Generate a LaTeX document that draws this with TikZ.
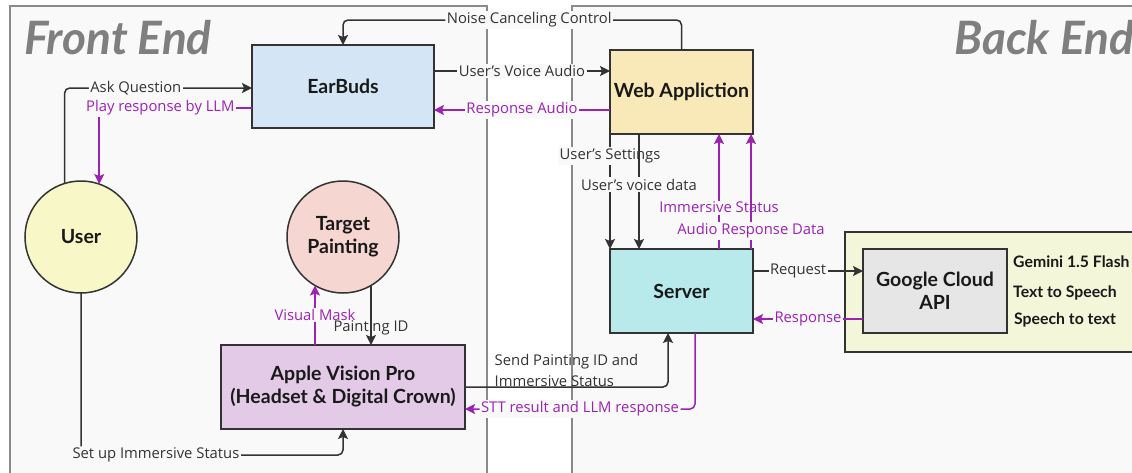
\documentclass[tikz,border=0pt]{standalone}
\usepackage{fontspec}
\setmainfont{Open Sans}
\newfontfamily\nodefont{Lato}
\usetikzlibrary{arrows.meta,calc}
\definecolor{panelbg}{HTML}{F9F9F9}
\definecolor{panelbd}{HTML}{8A8A8A}
\definecolor{dk}{HTML}{333333}
\definecolor{pp}{HTML}{9C22B4}
\definecolor{titlegray}{HTML}{7F7F7F}
\definecolor{cEar}{HTML}{D4E6F5}
\definecolor{cWeb}{HTML}{FAE9B8}
\definecolor{cSrv}{HTML}{B9EAEB}
\definecolor{cApi}{HTML}{E6E6E6}
\definecolor{cGcp}{HTML}{F4F6D9}
\definecolor{cUser}{HTML}{F8F7C8}
\definecolor{cTgt}{HTML}{F5D6D0}
\definecolor{cAvp}{HTML}{E3CAE6}
\tikzset{
  box/.style={draw=dk, line width=1.5pt, inner sep=0pt, outer sep=0pt, align=center,
    font=\nodefont\bfseries\fontsize{19.5}{23}\selectfont, text=black!90},
  circ/.style={box, circle, minimum size=112pt},
  arr/.style={draw=dk, line width=1.5pt, -{Stealth[length=10pt,width=10pt,inset=2pt]}},
  parr/.style={draw=pp, line width=1.5pt, -{Stealth[length=10pt,width=10pt,inset=2pt]}},
  lbl/.style={font=\fontsize{14.8}{17}\selectfont, text=dk, fill=panelbg, inner sep=1.5pt},
  plbl/.style={lbl, text=pp},
  side/.style={font=\nodefont\bfseries\fontsize{15.8}{18}\selectfont, text=black!90, anchor=west, inner sep=0pt},
  title/.style={font=\nodefont\bfseries\itshape\fontsize{46}{48}\selectfont, text=titlegray, inner sep=0pt}
}
\begin{document}
\begin{tikzpicture}[x=1pt,y=-1pt]
\clip (0,0) rectangle (1132,472);
\fill[white] (0,0) rectangle (1132,472);
% panels
\draw[panelbd, fill=panelbg, line width=1.5pt] (10,6) rectangle (487,490);
\draw[panelbd, fill=panelbg, line width=1.5pt] (572,6) rectangle (1150,490);
\node[title, anchor=west] (fe) at (24,38) {Front End};
\node[title, anchor=east] (be) at (1134,38) {Back End};
% google panel
\draw[dk, fill=cGcp, line width=1.5pt] (845,232) rectangle (1150,352);
% nodes
\node[box, fill=cEar, minimum width=182pt, minimum height=83pt] (ear) at (343,86.5) {EarBuds};
\node[box, fill=cWeb, minimum width=143pt, minimum height=84pt] (web) at (681.5,92) {Web Appliction};
\node[box, fill=cSrv, minimum width=143pt, minimum height=84pt] (srv) at (681.5,291) {Server};
\node[box, fill=cApi, minimum width=144pt, minimum height=84pt] (api) at (935,291) {Google Cloud\\API};
\node[circ, fill=cUser] (user) at (81,237) {User};
\node[circ, fill=cTgt] (tgt) at (343,237) {Target\\Painting};
\node[box, fill=cAvp, minimum width=244pt, minimum height=84pt] (avp) at (343,387) {Apple Vision Pro\\(Headset \& Digital Crown)};
\node[side] (gem) at (1013,262) {Gemini 1.5 Flash};
\node[side] (tts) at (1013,293) {Text to Speech};
\node[side] (stt) at (1014,320) {Speech to text};
% connectors
\draw[arr, rounded corners=5pt] (web.north) -- (web.north |- 0,20) -- node[lbl, pos=0.45]{Noise Canceling Control} (ear.north |- 0,20) -- (ear.north);
\draw[arr] (ear.east |- 0,71) -- node[lbl]{User's Voice Audio} (web.west |- 0,71);
\draw[parr] (web.west |- 0,110) -- node[plbl]{Response Audio} (ear.east |- 0,110);
\draw[arr, rounded corners=5pt] (user.107.7) |- node[lbl, pos=0.69]{Ask Question} (ear.west |- 0,88);
\draw[parr] (ear.west |- 0,108) -| node[plbl, pos=0.30]{Play response by LLM} (user.71.3);
\draw[arr, rounded corners=5pt] (user.south) -- (user.south |- 0,455) -- node[lbl, pos=0.286]{Set up Immersive Status} (avp.south |- 0,455) -- (avp.south);
\draw[parr] (avp.north -| tgt.240) -- node[plbl, pos=0.5]{Visual Mask} (tgt.240);
\draw[arr] (tgt.300) -- node[lbl, pos=0.71, fill=none]{Painting ID} (avp.north -| tgt.300);
\draw[arr, rounded corners=5pt] (avp.east) -| node[lbl, pos=0.25, fill=none, anchor=south, align=left, inner sep=0pt, font=\fontsize{14.8}{21}\selectfont]{Send Painting ID and\\Immersive Status} ([xshift=-13.5pt]srv.south);
\draw[parr, rounded corners=5pt] ([xshift=13.5pt]srv.south) |- node[plbl, pos=0.75]{STT result and LLM response} ([yshift=-22pt]avp.east);
\draw[arr] (web.south west) -- node[lbl, pos=0.19]{User's Settings} (srv.north west);
\draw[arr] ([xshift=-42.5pt]web.south) -- node[lbl, pos=0.44]{User's voice data} ([xshift=-42.5pt]srv.north);
\draw[parr] ([xshift=37.5pt]srv.north) -- node[plbl, pos=0.36]{Immersive Status} ([xshift=37.5pt]web.south);
\draw[parr] ([xshift=69.5pt]srv.north) -- node[plbl, pos=0.16]{Audio Response Data} ([xshift=69.5pt]web.south);
\draw[arr] ([yshift=20pt]srv.east) -- node[lbl, pos=0.41]{Request} ([yshift=20pt]api.west);
\draw[parr] ([yshift=-28pt]api.west) -- node[plbl, pos=0.5]{Response} ([yshift=-28pt]srv.east);
\end{tikzpicture}
\end{document}
